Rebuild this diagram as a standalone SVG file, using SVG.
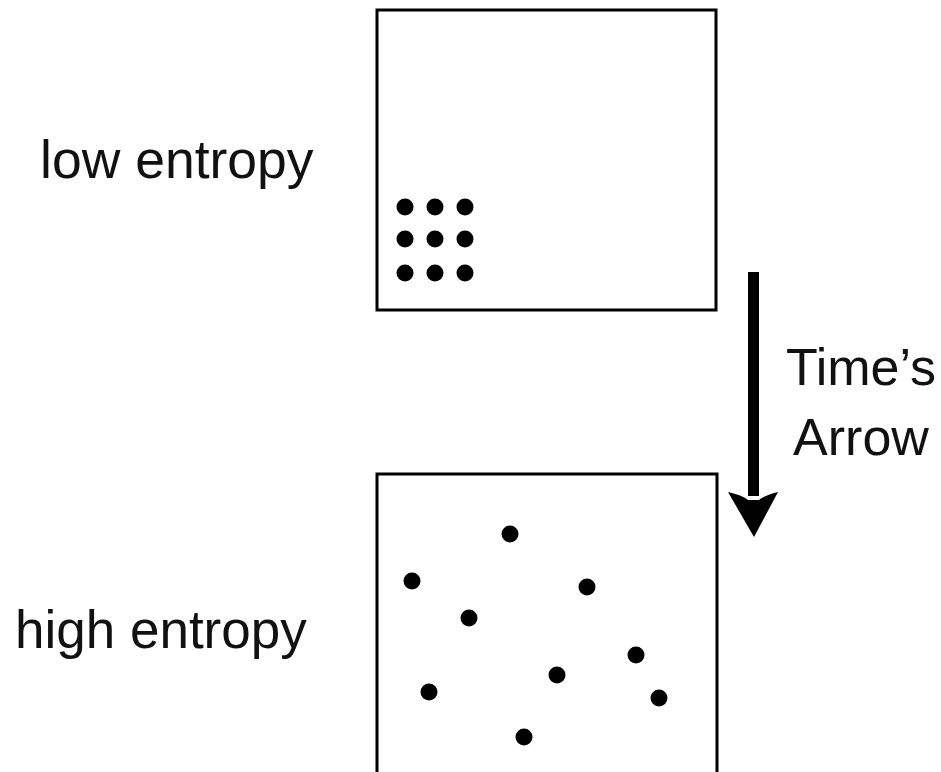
<svg xmlns="http://www.w3.org/2000/svg" width="941" height="772" viewBox="0 0 941 772">
  <style>
    .box { fill: none; stroke: #000; stroke-width: 3; }
    .dot { fill: #000; }
    .label { font-family: "Liberation Sans", Arial, sans-serif; font-size: 52px; fill: #111; }
    .side { font-size: 53.5px; }
  </style>
  <rect x="0" y="0" width="941" height="772" fill="#fff"/>

  <!-- ordered state: a tight 3x3 cluster -->
  <g id="low-entropy">
    <rect class="box" x="377" y="10" width="339" height="300"/>
    <circle class="dot" cx="405" cy="207" r="8.5"/>
    <circle class="dot" cx="435" cy="207" r="8.5"/>
    <circle class="dot" cx="465" cy="207" r="8.5"/>
    <circle class="dot" cx="405" cy="239" r="8.5"/>
    <circle class="dot" cx="435" cy="239" r="8.5"/>
    <circle class="dot" cx="465" cy="239" r="8.5"/>
    <circle class="dot" cx="405" cy="273" r="8.5"/>
    <circle class="dot" cx="435" cy="273" r="8.5"/>
    <circle class="dot" cx="465" cy="273" r="8.5"/>
    <text class="label side" x="40" y="178">low entropy</text>
  </g>

  <!-- disordered state: the same nine particles spread out -->
  <g id="high-entropy">
    <path class="box" d="M377,790 V474 H717 V790"/>
    <circle class="dot" cx="510" cy="534" r="8.5"/>
    <circle class="dot" cx="412" cy="581" r="8.5"/>
    <circle class="dot" cx="587" cy="587" r="8.5"/>
    <circle class="dot" cx="469" cy="618" r="8.5"/>
    <circle class="dot" cx="636" cy="655" r="8.5"/>
    <circle class="dot" cx="557" cy="675" r="8.5"/>
    <circle class="dot" cx="429" cy="692" r="8.5"/>
    <circle class="dot" cx="659" cy="698" r="8.5"/>
    <circle class="dot" cx="524" cy="737" r="8.5"/>
    <text class="label side" x="15" y="648" style="font-size:53px">high entropy</text>
  </g>

  <g id="connectors">
    <rect x="748" y="272" width="11" height="224" fill="#000"/>
    <path d="M728,492 Q742,495 748,500 L759,500 Q765,495 778,492 L754,537 Z" fill="#000"/>
  </g>

  <g id="times-arrow-label">
    <text class="label" x="861" y="385" text-anchor="middle">Time’s</text>
    <text class="label" x="861" y="455" text-anchor="middle">Arrow</text>
  </g>
</svg>
